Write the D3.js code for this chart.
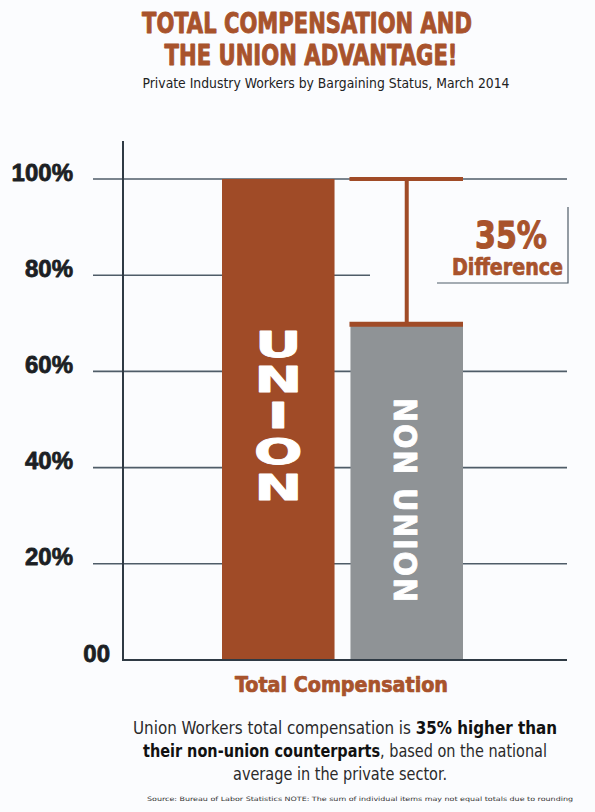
<!DOCTYPE html>
<head>
  <meta charset = "utf-8">
  <title>Total Compensation and the Union Advantage</title>
  <script src = "https://cdn.jsdelivr.net/npm/d3@7"></script>
  <style>
    body { margin: 0; background: #fbfcfe; }
  </style>
</head>

<body>

  <script type="text/javascript">
    var WIDTH = 595;
    var HEIGHT = 812;
    var svg = d3.select("body").append("svg")
                .attr("width",  WIDTH)
                .attr("height", HEIGHT);

    //===========data
    var categories = ["UNION", "NON UNION"];
    var values = [100, 70];            // % of union total compensation
    var tickValues = [0, 20, 40, 60, 80, 100];
    var tickLabels = ["00", "20%", "40%", "60%", "80%", "100%"];
    var diffLabel = ["35%", "Difference"];

    var RUST = "#a04b27";
    var GREY = "#8f9396";
    var ORANGE = "#a8532c";
    var GRID = "#4f5c68";
    var AXIS = "#2f3a44";
    var NARROW = "'Liberation Sans Narrow', 'Arial Narrow', 'DejaVu Sans Condensed', sans-serif";
    var SANS = "'Liberation Sans', Arial, sans-serif";

    // thicken heavy display text a little
    function heavy(sel, color, w){
      sel.attr("fill", color)
         .attr("stroke", color)
         .attr("stroke-width", w)
         .attr("stroke-linejoin", "round");
      return sel;
    }

    //===========scales
    var x = d3.scaleBand()
              .domain(categories)
              .range([222, 463])
              .paddingInner(0.124);
    var y = d3.scaleLinear()
              .domain([0, 100])
              .range([660, 179]);

    //===========titles
    heavy(svg.append("text")
       .attr("x", 307).attr("y", 33)
       .attr("text-anchor", "middle")
       .attr("textLength", 330).attr("lengthAdjust", "spacingAndGlyphs")
       .style("font", "bold 29px " + NARROW)
       .text("TOTAL COMPENSATION AND"), ORANGE, 0.9);
    heavy(svg.append("text")
       .attr("x", 311).attr("y", 65)
       .attr("text-anchor", "middle")
       .attr("textLength", 293).attr("lengthAdjust", "spacingAndGlyphs")
       .style("font", "bold 29px " + NARROW)
       .text("THE UNION ADVANTAGE!"), ORANGE, 0.9);
    svg.append("text")
       .attr("x", 326).attr("y", 88)
       .attr("text-anchor", "middle")
       .attr("textLength", 367).attr("lengthAdjust", "spacingAndGlyphs")
       .style("font", "14px " + NARROW)
       .attr("fill", "#222")
       .text("Private Industry Workers by Bargaining Status, March 2014");

    //===========grid lines (80% stops short of the annotation)
    svg.selectAll("line.grid")
       .data(tickValues.filter(function(d){ return d > 0; }))
       .enter().append("line")
       .attr("class", "grid")
       .attr("x1", 93)
       .attr("x2", function(d){ return d === 80 ? 370 : 567; })
       .attr("y1", function(d){ return y(d); })
       .attr("y2", function(d){ return y(d); })
       .attr("stroke", GRID)
       .attr("stroke-width", 1.6);

    //===========tick labels
    heavy(svg.selectAll("text.tick")
       .data(tickValues)
       .enter().append("text")
       .attr("class", "tick")
       .attr("x", function(d){ return d === 0 ? 110 : 73; })
       .attr("y", function(d){ return y(d) + 1.5; })
       .attr("text-anchor", "end")
       .style("font", "bold 24px " + SANS)
       .text(function(d, i){ return tickLabels[i]; }), "#1c1f24", 0.8);

    //===========bars
    svg.selectAll("rect.bar")
       .data(values)
       .enter().append("rect")
       .attr("class", "bar")
       .attr("x", function(d, i){ return x(categories[i]); })
       .attr("y", function(d){ return y(d); })
       .attr("width", x.bandwidth())
       .attr("height", function(d){ return y(0) - y(d); })
       .attr("fill", function(d, i){ return i === 0 ? RUST : GREY; });

    //===========axes
    svg.append("line")
       .attr("x1", 123).attr("x2", 123)
       .attr("y1", 141).attr("y2", y(0))
       .attr("stroke", AXIS).attr("stroke-width", 2);
    svg.append("line")
       .attr("x1", 122).attr("x2", 567)
       .attr("y1", y(0)).attr("y2", y(0))
       .attr("stroke", AXIS).attr("stroke-width", 2.2);

    //===========difference bracket
    var nx0 = x("NON UNION") - 1;
    var nx1 = x("NON UNION") + x.bandwidth();
    var nmid = x("NON UNION") + x.bandwidth() / 2;
    svg.append("line")
       .attr("x1", nx0).attr("x2", nx1)
       .attr("y1", y(values[0])).attr("y2", y(values[0]))
       .attr("stroke", RUST).attr("stroke-width", 4);
    svg.append("line")
       .attr("x1", nmid).attr("x2", nmid)
       .attr("y1", y(values[0])).attr("y2", y(values[1]))
       .attr("stroke", RUST).attr("stroke-width", 4);
    svg.append("line")
       .attr("x1", nx0).attr("x2", nx1)
       .attr("y1", y(values[1]) + 1).attr("y2", y(values[1]) + 1)
       .attr("stroke", RUST).attr("stroke-width", 5);

    //===========difference annotation
    svg.append("path")
       .attr("d", "M568,207V283H437")
       .attr("fill", "none")
       .attr("stroke", GRID)
       .attr("stroke-width", 1.2);
    heavy(svg.append("text")
       .attr("x", 511).attr("y", 248)
       .attr("text-anchor", "middle")
       .attr("textLength", 72).attr("lengthAdjust", "spacingAndGlyphs")
       .style("font", "bold 38px " + NARROW)
       .text(diffLabel[0]), ORANGE, 1);
    heavy(svg.append("text")
       .attr("x", 507.5).attr("y", 275)
       .attr("text-anchor", "middle")
       .attr("textLength", 111).attr("lengthAdjust", "spacingAndGlyphs")
       .style("font", "bold 23px " + NARROW)
       .text(diffLabel[1]), ORANGE, 0.7);

    //===========bar labels
    // UNION: upright letters stacked down the bar, stretched wide
    var ux = x("UNION") + x.bandwidth() / 2;
    var SX = 1.6;
    heavy(svg.append("text")
       .attr("transform", "scale(" + SX + ",1)")
       .attr("x", ux / SX)
       .attr("y", 323)
       .attr("textLength", 185).attr("lengthAdjust", "spacing")
       .style("writing-mode", "vertical-rl")
       .style("text-orientation", "upright")
       .style("font", "bold 36px 'DejaVu Sans', sans-serif")
       .text(categories[0]), "#fff", 0.8);

    // NON UNION: turned to read downward
    heavy(svg.append("text")
       .attr("transform", "translate(" + (nmid - 13) + ",398) rotate(90)")
       .attr("textLength", 204).attr("lengthAdjust", "spacing")
       .style("font", "bold 32px " + NARROW)
       .text(categories[1]), "#fff", 0.8);

    //===========x label
    heavy(svg.append("text")
       .attr("x", 341.5).attr("y", 692)
       .attr("text-anchor", "middle")
       .attr("textLength", 213).attr("lengthAdjust", "spacingAndGlyphs")
       .style("font", "bold 21px " + NARROW)
       .text("Total Compensation"), ORANGE, 0.7);

    //===========note
    var note = [
      [["Union Workers total compensation is ", false], ["35% higher than", true]],
      [["their non-union counterparts", true], [", based on the national", false]],
      [["average in the private sector.", false]]
    ];
    var noteX = [345, 345, 340];
    var noteW = [424, 404, 214];
    note.forEach(function(line, i){
      var t = svg.append("text")
                 .attr("x", noteX[i]).attr("y", 734 + i * 23)
                 .attr("text-anchor", "middle")
                 .attr("textLength", noteW[i]).attr("lengthAdjust", "spacingAndGlyphs")
                 .style("font", "17px " + NARROW)
                 .attr("fill", "#2a2a2a");
      line.forEach(function(part){
        t.append("tspan")
         .attr("font-weight", part[1] ? "bold" : "normal")
         .attr("fill", part[1] ? "#111" : "#2a2a2a")
         .text(part[0]);
      });
    });

    svg.append("text")
       .attr("x", 360).attr("y", 801)
       .attr("text-anchor", "middle")
       .attr("textLength", 426).attr("lengthAdjust", "spacingAndGlyphs")
       .style("font", "6px " + NARROW)
       .attr("fill", "#333")
       .text("Source: Bureau of Labor Statistics     NOTE: The sum of individual items may not equal totals due to rounding");

  </script>
</body>
